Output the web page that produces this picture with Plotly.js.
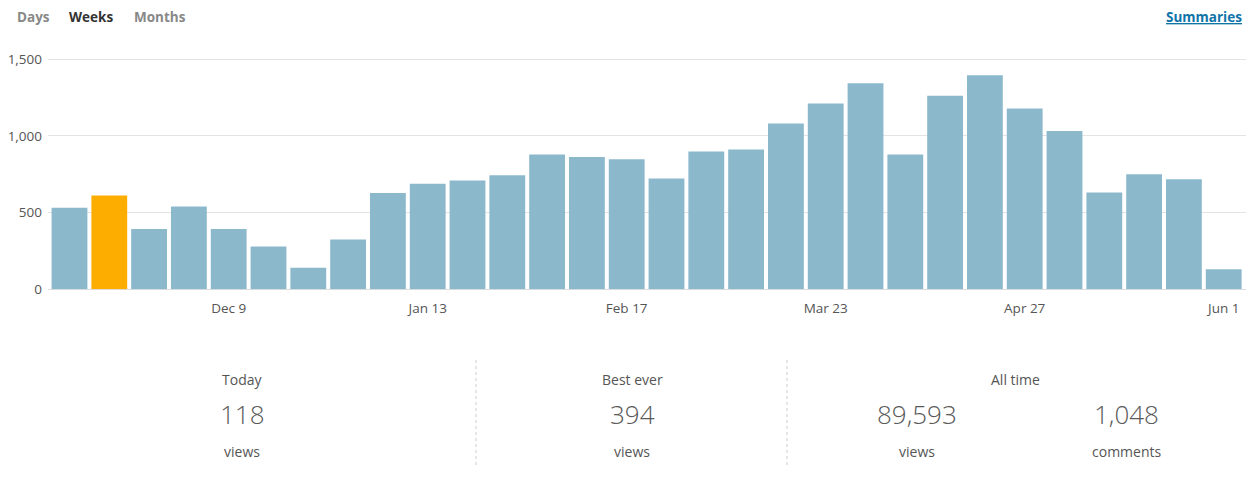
<!DOCTYPE html>
<html>
<head>
<meta charset="utf-8">
<script src="https://cdn.plot.ly/plotly-3.0.1.min.js"></script>
<style>
html,body{margin:0;padding:0;background:#fff;}
#chart{width:1257px;height:486px;}
</style>
</head>
<body>
<div id="chart"></div>
<script>
const weeks = ["Nov 11","Nov 18","Nov 25","Dec 2","Dec 9","Dec 16","Dec 23","Dec 30","Jan 6","Jan 13",
  "Jan 20","Jan 27","Feb 3","Feb 10","Feb 17","Feb 24","Mar 2","Mar 9","Mar 16","Mar 23",
  "Mar 30","Apr 6","Apr 13","Apr 20","Apr 27","May 4","May 11","May 18","May 25","Jun 1"];
const views = [532,612,393,539,393,279,140,324,627,688,
  709,744,878,863,848,722,898,911,1081,1211,
  1343,878,1261,1395,1179,1032,631,750,718,130];
const highlightIndex = 1;
const tickLabels = ["Dec 9","Jan 13","Feb 17","Mar 23","Apr 27","Jun 1"];
const yTicks = [0,500,1000,1500];
const navItems = ["Days","Weeks","Months"];
const statTitles = ["Today","Best ever","All time"];
const statNumbers = ["118","394","89,593","1,048"];
const statUnits = ["views","views","views","comments"];

const W = 1257, H = 486;
const px = x => x / W;
const py = y => 1 - y / H;
const FONT = "'Open Sans', 'Noto Sans', sans-serif";

const barColors = views.map((v,i) => i === highlightIndex ? "#fdad00" : "#8cb8cc");

const trace = {
  type: "bar",
  x: weeks,
  y: views,
  marker: {color: barColors, line: {width: 0}},
  hoverinfo: "x+y"
};

const annotations = [];
const navX = [15, 67, 132];
const navColor = ["#888888","#333333","#888888"];
navItems.forEach((t,i) => annotations.push({
  xref:"paper", yref:"paper", x: px(navX[i]), y: py(17), xanchor:"left", yanchor:"middle",
  text: "<b>"+t+"</b>", showarrow:false, font:{family:FONT, size:13.5, color:navColor[i]}
}));
annotations.push({
  xref:"paper", yref:"paper", x: px(1244), y: py(17), xanchor:"right", yanchor:"middle",
  text:"<b><u>Summaries</u></b>", showarrow:false, font:{family:FONT, size:13.5, color:"#0f74a8"}
});

const titleX = [242, 632, 1015];
statTitles.forEach((t,i) => annotations.push({
  xref:"paper", yref:"paper", x: px(titleX[i]), y: py(379), xanchor:"center", yanchor:"middle",
  text:t, showarrow:false, font:{family:FONT, size:14, color:"#555555"}
}));
const numX = [242, 632, 917, 1126];
statNumbers.forEach((t,i) => annotations.push({
  xref:"paper", yref:"paper", x: px(numX[i]), y: py(414), xanchor:"center", yanchor:"middle",
  text:t, showarrow:false, font:{family:FONT, size:26, color:"#5a5a5a", weight:300}
}));
statUnits.forEach((t,i) => annotations.push({
  xref:"paper", yref:"paper", x: px(numX[i]), y: py(451), xanchor:"center", yanchor:"middle",
  text:t, showarrow:false, font:{family:FONT, size:14, color:"#555555"}
}));

const shapes = [476, 787].map(x => ({
  type:"line", xref:"paper", yref:"paper", x0:px(x), x1:px(x), y0:py(360), y1:py(465),
  line:{color:"#cccccc", width:1, dash:"dot"}
}));

const layout = {
  width: W, height: H,
  margin: {l:0, r:0, t:0, b:0},
  paper_bgcolor:"#ffffff", plot_bgcolor:"#ffffff",
  showlegend:false,
  bargap: 0.1,
  xaxis: {
    type:"category", domain:[px(48), px(1246)], range:[-0.54, 29.56],
    tickvals: tickLabels, ticktext: tickLabels,
    showgrid:false, zeroline:false, showline:false, ticks:"",
    ticklabelstandoff: 9,
    tickfont:{family:FONT, size:13.5, color:"#555555"},
    fixedrange:true
  },
  yaxis: {
    domain:[py(289.3), py(50)], range:[0,1560],
    tickvals: yTicks, tickformat:",d",
    showgrid:true, gridcolor:"#e3e3e3", gridwidth:1,
    zeroline:true, zerolinecolor:"#dddddd", zerolinewidth:1,
    showline:false, ticks:"",
    ticklabelstandoff: 5,
    tickfont:{family:FONT, size:13.5, color:"#555555"},
    fixedrange:true
  },
  annotations, shapes
};

Plotly.newPlot("chart", [trace], layout, {displayModeBar:false, staticPlot:true});
</script>
</body>
</html>
